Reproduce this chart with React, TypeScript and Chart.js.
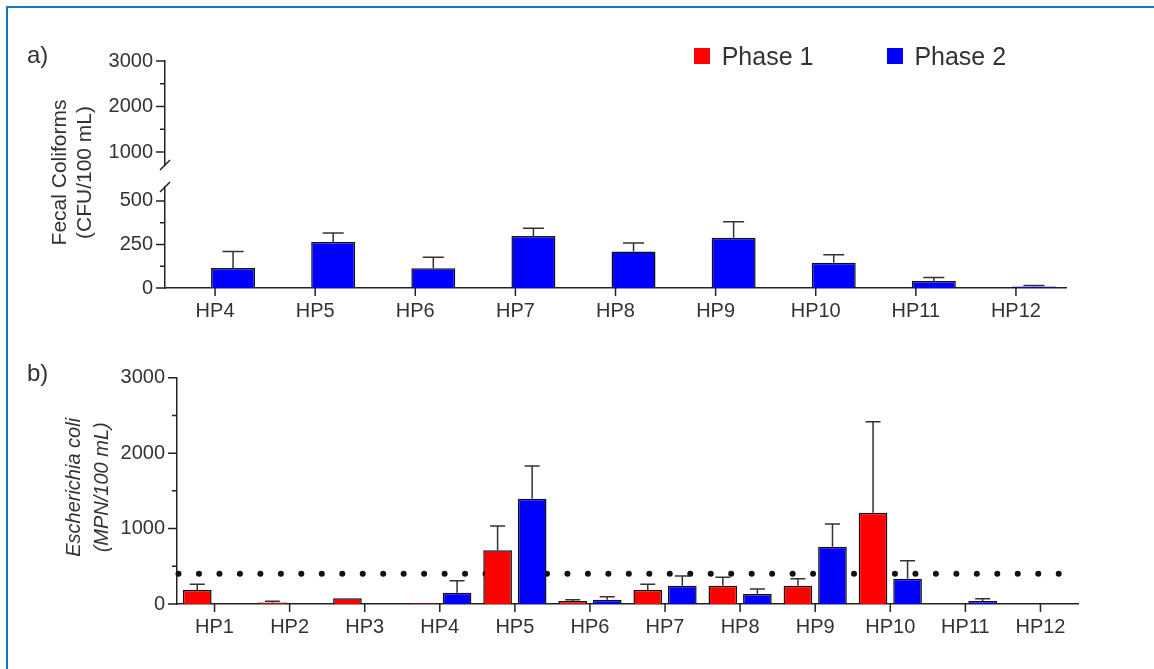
import React, { useEffect, useRef } from 'react';
import { Chart, registerables } from 'chart.js';

Chart.register(...registerables);

// ---------------- data ----------------
const phaseLabels = ['Phase 1', 'Phase 2'];
const phaseColors = ['#ff0000', '#0000ff'];

// panel a) Fecal coliforms (CFU/100 mL)
const fecalSites = ['HP4', 'HP5', 'HP6', 'HP7', 'HP8', 'HP9', 'HP10', 'HP11', 'HP12'];
const fecalPhase1: (number | null)[] = [null, null, null, null, null, null, null, null, null];
const fecalPhase1Err = [0, 0, 0, 0, 0, 0, 0, 0, 0];
const fecalPhase2 = [115, 264, 113, 299, 209, 289, 145, 40, 8];
const fecalPhase2Err = [94, 52, 63, 44, 50, 92, 46, 21, 7];
const fecalLowTicks = [0, 125, 250, 375, 500];
const fecalLowLabels = ['0', '', '250', '', '500'];
const fecalHighTicks = [1000, 1500, 2000, 2500, 3000];
const fecalHighLabels = ['1000', '', '2000', '', '3000'];
const fecalLowRange = [0, 580];
const fecalHighRange = [714, 3000];

// panel b) Escherichia coli (MPN/100 mL)
const ecoliSites = ['HP1', 'HP2', 'HP3', 'HP4', 'HP5', 'HP6', 'HP7', 'HP8', 'HP9', 'HP10', 'HP11', 'HP12'];
const ecoliPhase1: (number | null)[] = [185, 20, 75, 10, 711, 40, 185, 243, 243, 1210, null, null];
const ecoliPhase1Err = [78, 15, 0, 0, 322, 17, 76, 110, 92, 1205, 0, 0];
const ecoliPhase2: (number | null)[] = [null, null, null, 150, 1395, 57, 243, 132, 759, 335, 40, null];
const ecoliPhase2Err = [0, 0, 0, 159, 433, 40, 128, 67, 301, 239, 30, 0];
const ecoliTicks = [0, 500, 1000, 1500, 2000, 2500, 3000];
const ecoliTickLabels = ['0', '', '1000', '', '2000', '', '3000'];
const ecoliLimit = 400;

// ---------------- styles ----------------
const FONT = '"Liberation Sans", Arial, Helvetica, sans-serif';
const TEXT = '#333333';
const AXIS = '#222222';
const BAR_BORDER = '#111111';

// ---------------- plugins ----------------
function tickMarksPlugin(yIds: string[], yLabels: string[][], major: number, minor: number, xLen: number) {
  return {
    id: 'tickMarks',
    afterDraw(chart: any) {
      const ctx = chart.ctx;
      ctx.save();
      ctx.strokeStyle = AXIS;
      ctx.lineWidth = 1.5;
      ctx.beginPath();
      yIds.forEach((id, k) => {
        const s = chart.scales[id];
        s.ticks.forEach((t: any, i: number) => {
          const y = s.getPixelForValue(t.value);
          const len = yLabels[k][i] ? major : minor;
          ctx.moveTo(s.right - len, y);
          ctx.lineTo(s.right, y);
        });
      });
      const xs = chart.scales.x;
      xs.ticks.forEach((_t: any, i: number) => {
        const x = xs.getPixelForTick(i);
        ctx.moveTo(x, xs.top);
        ctx.lineTo(x, xs.top + xLen);
      });
      ctx.stroke();
      ctx.restore();
    },
  };
}

function errorBarsPlugin(errors: number[][], cap: number, yId: string) {
  return {
    id: 'errorBars',
    afterDatasetsDraw(chart: any) {
      const ctx = chart.ctx;
      const s = chart.scales[yId];
      ctx.save();
      ctx.strokeStyle = '#333333';
      ctx.lineWidth = 1.5;
      chart.data.datasets.forEach((ds: any, di: number) => {
        const meta = chart.getDatasetMeta(di);
        meta.data.forEach((bar: any, i: number) => {
          const v = ds.data[i];
          const e = errors[di][i];
          if (v == null || !e) return;
          const yTop = s.getPixelForValue(v + e);
          ctx.beginPath();
          ctx.moveTo(bar.x, bar.y);
          ctx.lineTo(bar.x, yTop);
          ctx.moveTo(bar.x - cap / 2, yTop);
          ctx.lineTo(bar.x + cap / 2, yTop);
          ctx.stroke();
        });
      });
      ctx.restore();
    },
  };
}

function yTitlePlugin(lines: string[], font: string, xs: number[], dy: number) {
  return {
    id: 'yTitle',
    afterDraw(chart: any) {
      const ctx = chart.ctx;
      const a = chart.chartArea;
      const yc = (a.top + a.bottom) / 2 + dy;
      ctx.save();
      ctx.fillStyle = TEXT;
      ctx.font = font;
      ctx.textAlign = 'center';
      ctx.textBaseline = 'middle';
      lines.forEach((ln, i) => {
        ctx.save();
        ctx.translate(xs[i], yc);
        ctx.rotate(-Math.PI / 2);
        ctx.fillText(ln, 0, 0);
        ctx.restore();
      });
      ctx.restore();
    },
  };
}

const breakMarksPlugin = {
  id: 'breakMarks',
  afterDraw(chart: any) {
    const ctx = chart.ctx;
    const hi = chart.scales.yHigh;
    const lo = chart.scales.yLow;
    const x = hi.right;
    ctx.save();
    ctx.strokeStyle = AXIS;
    ctx.lineWidth = 1.5;
    ctx.beginPath();
    [hi.bottom, lo.top].forEach((y: number) => {
      ctx.moveTo(x - 5, y + 5);
      ctx.lineTo(x + 5, y - 5);
    });
    ctx.stroke();
    ctx.restore();
  },
};

function limitDotsPlugin(value: number, yId: string) {
  return {
    id: 'limitDots',
    beforeDatasetsDraw(chart: any) {
      const ctx = chart.ctx;
      const s = chart.scales[yId];
      const a = chart.chartArea;
      const y = s.getPixelForValue(value);
      ctx.save();
      ctx.fillStyle = '#111111';
      for (let x = a.left + 1.5; x <= a.right - 15; x += 20.47) {
        ctx.beginPath();
        ctx.arc(x, y, 3, 0, Math.PI * 2);
        ctx.fill();
      }
      ctx.restore();
    },
  };
}

// ---------------- charts ----------------
function yAxisBase(width: number) {
  return {
    type: 'linear' as const,
    position: 'left' as const,
    axis: 'y',
    grid: { display: false, drawTicks: true, tickLength: 9 },
    border: { display: true, color: AXIS, width: 1.5 },
    ticks: { color: TEXT, font: { family: FONT, size: 20 }, padding: 3, autoSkip: false },
    afterFit: (s: any) => { s.width = width; },
  };
}

function xAxis(labels: string[]) {
  return {
    type: 'category' as const,
    labels,
    grid: { display: false, drawTicks: true, tickLength: 8 },
    border: { display: true, color: AXIS, width: 1.5 },
    ticks: { color: TEXT, font: { family: FONT, size: 20 }, padding: 3, autoSkip: false, maxRotation: 0 },
    afterFit: (s: any) => { s.height = 40; },
  };
}

function FecalChart() {
  const ref = useRef<HTMLCanvasElement>(null);
  useEffect(() => {
    const chart = new Chart(ref.current!, {
      type: 'bar',
      data: {
        labels: fecalSites,
        datasets: [
          {
            label: phaseLabels[0], data: fecalPhase1 as any, yAxisID: 'yLow',
            backgroundColor: phaseColors[0], borderColor: BAR_BORDER, borderWidth: 1.5,
            categoryPercentage: 0.72, barPercentage: 1.22,
          },
          {
            label: phaseLabels[1], data: fecalPhase2, yAxisID: 'yLow',
            backgroundColor: phaseColors[1], borderColor: BAR_BORDER, borderWidth: 1.5,
            categoryPercentage: 0.72, barPercentage: 1.22,
          },
        ],
      },
      options: {
        responsive: false,
        animation: false,
        layout: { padding: { left: 0, top: 61, right: 88, bottom: 7 } },
        plugins: { legend: { display: false }, tooltip: { enabled: false } },
        scales: {
          x: xAxis(fecalSites) as any,
          yLow: {
            ...yAxisBase(165), stack: 'a', stackWeight: 101,
            min: fecalLowRange[0], max: fecalLowRange[1],
            afterBuildTicks: (s: any) => { s.ticks = fecalLowTicks.map((v) => ({ value: v })); },
            ticks: { ...yAxisBase(165).ticks, callback: (_v: any, i: number) => fecalLowLabels[i] },
          } as any,
          yGap: {
            type: 'linear', position: 'left', axis: 'y', stack: 'a', stackWeight: 22,
            min: fecalLowRange[1], max: fecalHighRange[0],
            grid: { display: false, drawTicks: false },
            border: { display: false },
            ticks: { display: false },
            afterFit: (s: any) => { s.width = 165; },
          } as any,
          yHigh: {
            ...yAxisBase(165), stack: 'a', stackWeight: 104,
            min: fecalHighRange[0], max: fecalHighRange[1],
            afterBuildTicks: (s: any) => { s.ticks = fecalHighTicks.map((v) => ({ value: v })); },
            ticks: { ...yAxisBase(165).ticks, callback: (_v: any, i: number) => fecalHighLabels[i] },
          } as any,
        },
      },
      plugins: [
        tickMarksPlugin(['yLow', 'yHigh'], [fecalLowLabels, fecalHighLabels], 9, 5, 8),
        errorBarsPlugin([fecalPhase1Err, fecalPhase2Err], 21, 'yLow'),
        yTitlePlugin(['Fecal Coliforms', '(CFU/100 mL)'], `21px ${FONT}`, [60, 85], -2),
        breakMarksPlugin,
      ],
    });
    return () => chart.destroy();
  }, []);
  return <canvas ref={ref} width={1154} height={335} style={{ position: 'absolute', left: 0, top: 0 }} />;
}

function EcoliChart() {
  const ref = useRef<HTMLCanvasElement>(null);
  useEffect(() => {
    const chart = new Chart(ref.current!, {
      type: 'bar',
      data: {
        labels: ecoliSites,
        datasets: [
          {
            label: phaseLabels[0], data: ecoliPhase1 as any, yAxisID: 'y',
            backgroundColor: phaseColors[0], borderColor: BAR_BORDER, borderWidth: 1.5,
            categoryPercentage: 0.92, barPercentage: 0.83,
          },
          {
            label: phaseLabels[1], data: ecoliPhase2 as any, yAxisID: 'y',
            backgroundColor: phaseColors[1], borderColor: BAR_BORDER, borderWidth: 1.5,
            categoryPercentage: 0.92, barPercentage: 0.83,
          },
        ],
      },
      options: {
        responsive: false,
        animation: false,
        layout: { padding: { left: 0, top: 42.7, right: 76, bottom: 25 } },
        plugins: { legend: { display: false }, tooltip: { enabled: false } },
        scales: {
          x: xAxis(ecoliSites) as any,
          y: {
            ...yAxisBase(177),
            min: ecoliTicks[0], max: ecoliTicks[ecoliTicks.length - 1],
            afterBuildTicks: (s: any) => { s.ticks = ecoliTicks.map((v) => ({ value: v })); },
            ticks: { ...yAxisBase(177).ticks, callback: (_v: any, i: number) => ecoliTickLabels[i] },
          } as any,
        },
      },
      plugins: [
        limitDotsPlugin(ecoliLimit, 'y'),
        tickMarksPlugin(['y'], [ecoliTickLabels], 9, 5, 8),
        errorBarsPlugin([ecoliPhase1Err, ecoliPhase2Err], 15, 'y'),
        yTitlePlugin(['Escherichia coli', '(MPN/100 mL)'], `italic 20px ${FONT}`, [74, 102], -3.5),
      ],
    });
    return () => chart.destroy();
  }, []);
  return <canvas ref={ref} width={1154} height={334} style={{ position: 'absolute', left: 0, top: 335 }} />;
}

export default function App() {
  const legendLeft = [694, 886.7];
  return (
    <div style={{ position: 'absolute', left: 0, top: 0, width: 1154, height: 669, overflow: 'hidden', background: '#ffffff', fontFamily: FONT }}>
      <div style={{ position: 'absolute', left: 6, top: 6, width: 1200, height: 720, borderLeft: '2px solid #1a73c8', borderTop: '2px solid #1a73c8' }} />
      <FecalChart />
      <EcoliChart />
      <div style={{ position: 'absolute', left: 27, top: 41, fontSize: 24, lineHeight: '28px', color: TEXT }}>a)</div>
      <div style={{ position: 'absolute', left: 27, top: 359, fontSize: 24, lineHeight: '28px', color: TEXT }}>b)</div>
      {phaseLabels.map((lab, i) => (
        <div key={lab} style={{ position: 'absolute', left: legendLeft[i], top: 43.5, height: 24, display: 'flex', alignItems: 'center', fontSize: 25, lineHeight: '24px', color: TEXT, whiteSpace: 'nowrap' }}>
          <span style={{ display: 'inline-block', width: 16, height: 16, background: phaseColors[i], marginRight: 11.7 }} />
          <span>{lab}</span>
        </div>
      ))}
    </div>
  );
}
